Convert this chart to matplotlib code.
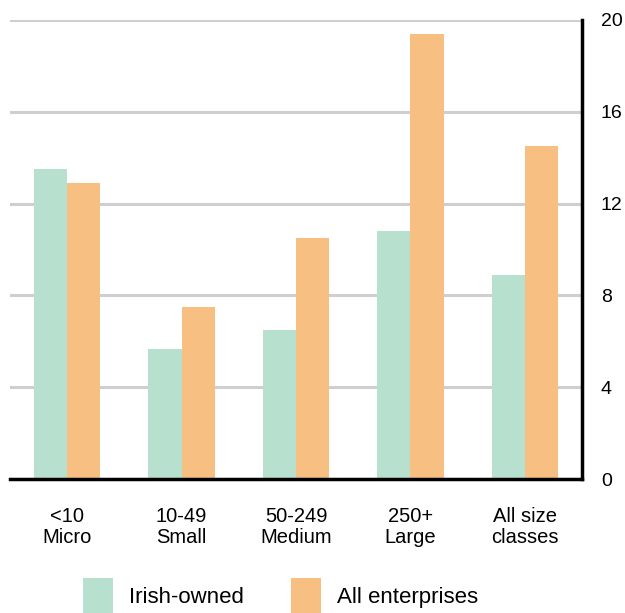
import matplotlib
matplotlib.use("Agg")
import matplotlib.pyplot as plt
import numpy as np

categories = ["<10\nMicro", "10-49\nSmall", "50-249\nMedium", "250+\nLarge", "All size\nclasses"]
irish_owned = [13.5, 5.65, 6.5, 10.8, 8.9]
all_enterprises = [12.9, 7.5, 10.5, 19.4, 14.5]
y_ticks = [0, 4, 8, 12, 16, 20]

green = "#b8e0cf"
orange = "#f7bf82"

plt.rcParams["font.family"] = ["Liberation Sans", "DejaVu Sans"]

W, H = 625, 613
fig = plt.figure(figsize=(W / 100, H / 100), dpi=100)
ax = fig.add_axes([10 / W, (H - 479) / H, 572 / W, 459 / H])

x = np.arange(len(categories))
w = 0.29
ax.bar(x - w / 2, irish_owned, width=w, color=green, label="Irish-owned", zorder=3)
ax.bar(x + w / 2, all_enterprises, width=w, color=orange, label="All enterprises", zorder=3)

ax.set_xlim(-0.5, 4.5)
ax.set_ylim(0, 20)
ax.set_yticks(y_ticks)
ax.yaxis.tick_right()
ax.grid(axis="y", color="#cfcfcf", linewidth=2.2, zorder=0)
ax.set_axisbelow(True)

for s in ["top", "left"]:
    ax.spines[s].set_visible(False)
for s in ["right", "bottom"]:
    ax.spines[s].set_linewidth(2.5)
    ax.spines[s].set_color("black")
    ax.spines[s].set_zorder(4)

ax.set_xticks(x)
ax.set_xticklabels(categories, fontsize=14.5, linespacing=1.12)
ax.tick_params(axis="x", length=0, pad=20)
ax.tick_params(axis="y", length=0, pad=13.5, labelsize=14)

leg = fig.legend(
    loc="upper left",
    bbox_to_anchor=(83 / W, 1 - 578 / H),
    ncol=2,
    frameon=False,
    fontsize=16,
    borderpad=0,
    borderaxespad=0,
    handlelength=1.35,
    handleheight=2.1,
    handletextpad=0.72,
    columnspacing=2.1,
)

fig.savefig("out.png", dpi=100)
